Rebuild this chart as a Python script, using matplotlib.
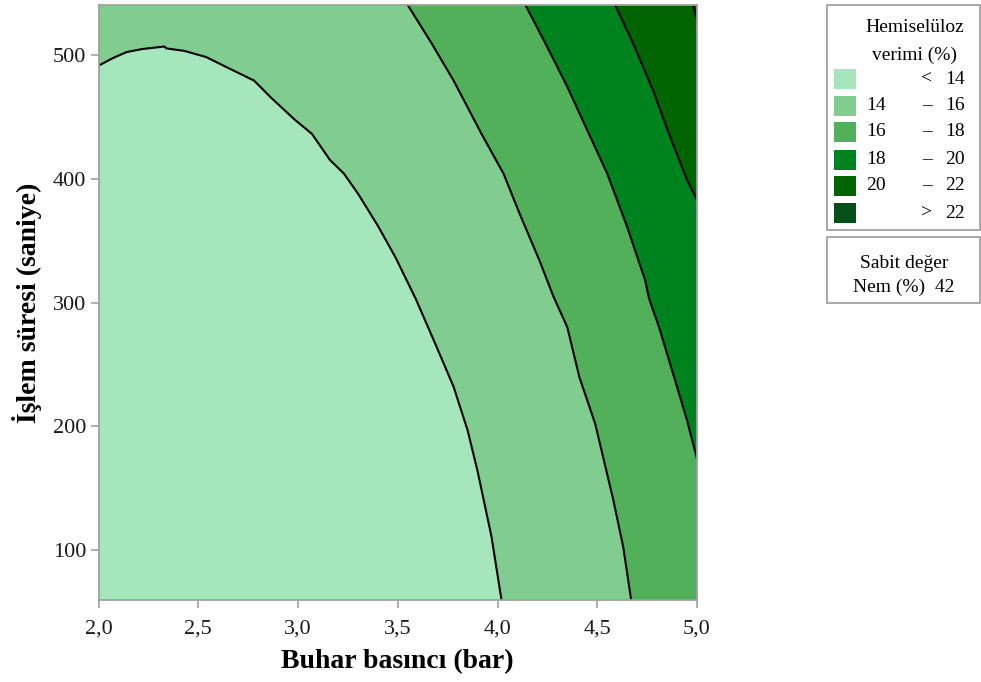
import numpy as np
import matplotlib
matplotlib.use("Agg")
import matplotlib.pyplot as plt
from matplotlib.patches import Rectangle

plt.rcParams["font.family"] = ["Liberation Serif", "DejaVu Serif"]

# axis ranges
x_min, x_max = 2.0, 5.0
y_min, y_max = 60, 540

# contour boundaries of hemicellulose yield (%) : pressure (bar) vs time (s)
x14 = [2.00, 2.07, 2.14, 2.22, 2.33, 2.34, 2.43, 2.54, 2.64, 2.78, 2.86, 2.98, 3.07,
       3.16, 3.23, 3.30, 3.40, 3.49, 3.59, 3.69, 3.78, 3.85, 3.90, 3.97, 4.02]
y14 = [491, 497, 502, 504.5, 506.5, 505, 503, 498, 490, 479, 466, 448, 436,
       415, 404, 388, 362, 336, 303, 266, 232, 197, 164, 111, 60]
x16 = [3.55, 3.67, 3.78, 3.92, 4.03, 4.11, 4.21, 4.28, 4.35, 4.41, 4.49, 4.58, 4.63, 4.67]
y16 = [540, 509, 479, 436, 404, 372, 334, 305, 280, 240, 202, 141, 103, 60]
x18 = [4.14, 4.25, 4.35, 4.45, 4.55, 4.65, 4.74, 4.76, 4.81, 4.90, 4.95, 5.00]
y18 = [540, 506, 474, 439, 404, 361, 318, 303, 280, 232, 205, 174]
x20 = [4.59, 4.68, 4.78, 4.86, 4.95, 5.00]
y20 = [540, 509, 471, 436, 399, 383]
x22 = [4.98, 5.00]
y22 = [540, 529]

levels = [14, 16, 18, 20, 22]
colors = ["#a6e6bc", "#80cd8f", "#52b05a", "#00821e", "#006400", "#074f18"]
range_left = ["", "14", "16", "18", "20", ""]
range_mid = ["<", "–", "–", "–", "–", ">"]
range_right = ["14", "16", "18", "20", "22", "22"]

x_ticks = [2.0, 2.5, 3.0, 3.5, 4.0, 4.5, 5.0]
y_ticks = [100, 200, 300, 400, 500]
hold_name = "Nem (%)"
hold_value = 42


def upper_region(xs, ys):
    # close the curve around the high-yield (right/top) side of the plot
    px, py = list(xs), list(ys)
    if py[-1] <= y_min:
        px.append(x_max)
        py.append(y_min)
    px.append(x_max)
    py.append(y_max)
    if px[0] <= x_min:
        px.append(x_min)
        py.append(y_max)
    return px, py


fig = plt.figure(figsize=(9.81, 6.82), dpi=100)
ax = fig.add_axes([98.5 / 981, 1 - 600 / 682, (697 - 98.5) / 981, 595 / 682])

ax.add_patch(Rectangle((x_min, y_min), x_max - x_min, y_max - y_min,
                       facecolor=colors[0], edgecolor="none", zorder=0))
curves = [(x14, y14), (x16, y16), (x18, y18), (x20, y20), (x22, y22)]
for i, (cx, cy) in enumerate(curves):
    px, py = upper_region(cx, cy)
    ax.fill(px, py, color=colors[i + 1], linewidth=0, zorder=1)
for cx, cy in curves:
    ax.plot(cx, cy, color="black", linewidth=1.5, zorder=2)

ax.set_xlim(x_min, x_max)
ax.set_ylim(y_min, y_max)
ax.set_xticks(x_ticks)
ax.set_xticklabels([f"{t:.1f}".replace(".", ",") for t in x_ticks])
ax.set_yticks(y_ticks)
ax.tick_params(direction="out", length=6, width=1.2, color="#a0a0a0",
               labelsize=16, labelcolor="#1a1a1a")
ax.tick_params(axis="x", pad=8)
ax.tick_params(axis="y", pad=3)
for s in ax.spines.values():
    s.set_color("#a0a0a0")
    s.set_linewidth(1.3)
ax.set_xlabel("Buhar basıncı (bar)", fontsize=20, fontweight="bold", labelpad=8)
ax.set_ylabel("İşlem süresi (saniye)", fontsize=20, fontweight="bold", labelpad=8)

# legend panels drawn in pixel space
lg = fig.add_axes([0, 0, 1, 1])
lg.set_xlim(0, 981)
lg.set_ylim(682, 0)
lg.axis("off")
lg.add_patch(Rectangle((827, 5), 153, 225, facecolor="white", edgecolor="#a0a0a0", linewidth=1.3))
lg.add_patch(Rectangle((827, 237), 153, 66, facecolor="white", edgecolor="#a0a0a0", linewidth=1.3))
lg.text(915, 28, "Hemiselüloz", ha="center", va="center", fontsize=14)
lg.text(915, 55, "verimi (%)", ha="center", va="center", fontsize=14)
row_y = [79, 106, 132, 160, 186, 213]
for i, yc in enumerate(row_y):
    lg.add_patch(Rectangle((834, yc - 10), 22, 20, facecolor=colors[i], edgecolor="none"))
    lg.text(866, yc, range_left[i], ha="left", va="center", fontsize=14)
    lg.text(927, yc, range_mid[i], ha="center", va="center", fontsize=14)
    lg.text(965, yc, range_right[i], ha="right", va="center", fontsize=14)
lg.text(904, 263, "Sabit değer", ha="center", va="center", fontsize=14)
lg.text(904, 287, f"{hold_name}  {hold_value}", ha="center", va="center", fontsize=14)

fig.savefig("out.png", dpi=100)
